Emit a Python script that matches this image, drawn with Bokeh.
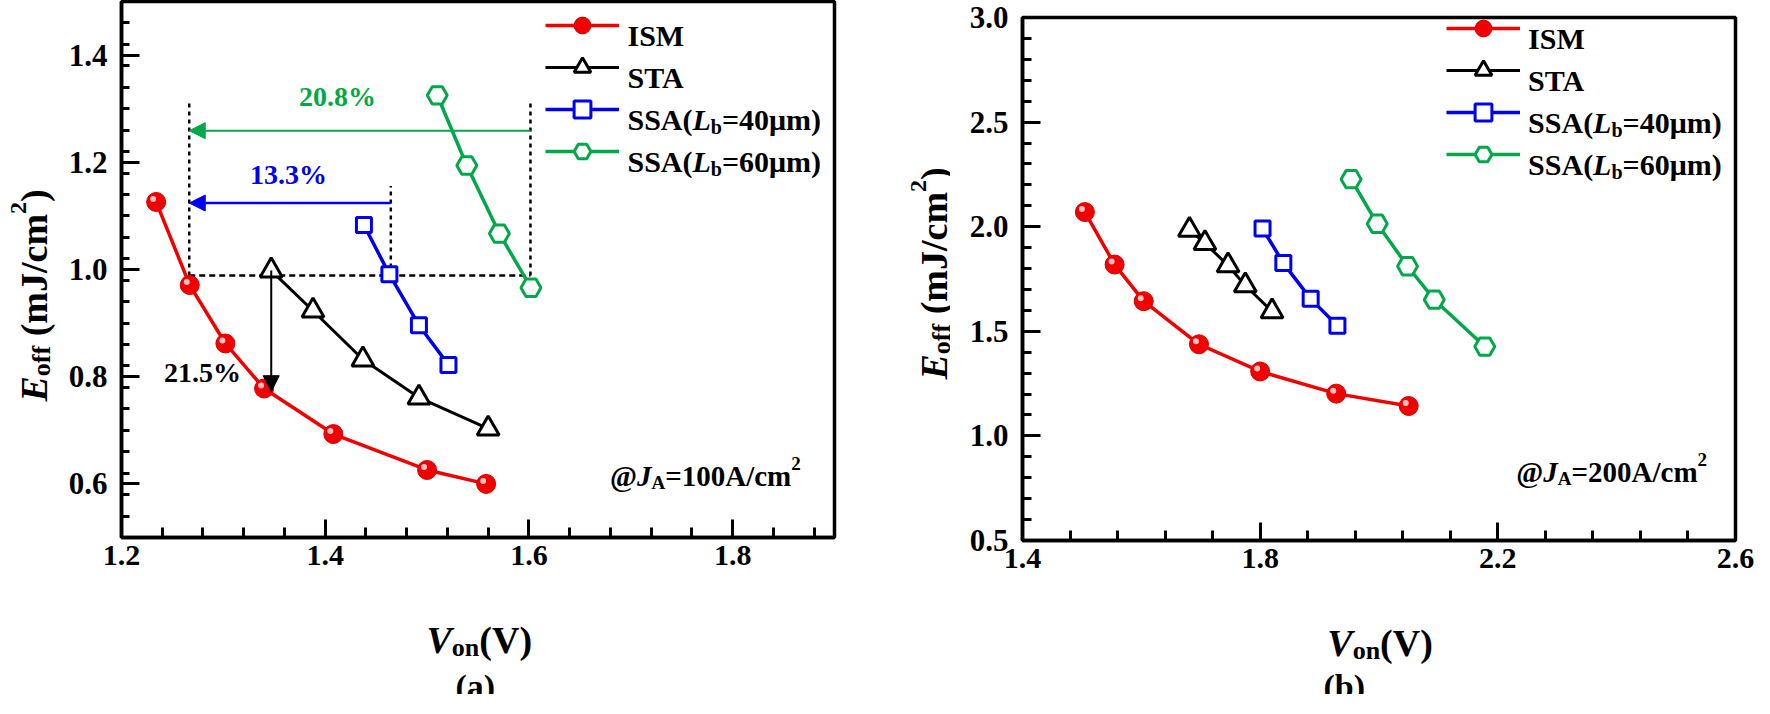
import math
from bokeh.plotting import figure
from bokeh.layouts import row, column
from bokeh.models import (FixedTicker, PrintfTickFormatter, Label, Arrow, NormalHead,
                          Legend, LegendItem, Range1d)
from bokeh.embed import file_html
from bokeh.resources import INLINE

# ---------------- data: panel (a) @JA=100A/cm2 ----------------
a_ism_x = [1.234, 1.267, 1.302, 1.340, 1.408, 1.500, 1.558]
a_ism_y = [1.126, 0.971, 0.862, 0.778, 0.693, 0.626, 0.600]
a_sta_x = [1.347, 1.388, 1.437, 1.492, 1.560]
a_sta_y = [0.998, 0.923, 0.832, 0.761, 0.703]
a_ssa40_x = [1.438, 1.463, 1.492, 1.521]
a_ssa40_y = [1.083, 0.991, 0.896, 0.822]
a_ssa60_x = [1.510, 1.539, 1.571, 1.602]
a_ssa60_y = [1.325, 1.194, 1.067, 0.966]

# ---------------- data: panel (b) @JA=200A/cm2 ----------------
b_ism_x = [1.505, 1.555, 1.604, 1.697, 1.800, 1.928, 2.050]
b_ism_y = [2.070, 1.819, 1.644, 1.438, 1.308, 1.202, 1.143]
b_sta_x = [1.681, 1.707, 1.746, 1.775, 1.820]
b_sta_y = [1.985, 1.921, 1.815, 1.719, 1.595]
b_ssa40_x = [1.804, 1.839, 1.885, 1.930]
b_ssa40_y = [1.991, 1.826, 1.655, 1.527]
b_ssa60_x = [1.953, 1.997, 2.048, 2.093, 2.178]
b_ssa60_y = [2.227, 2.014, 1.811, 1.651, 1.427]

# ---------------- annotation values (panel a) ----------------
ref_level = 0.989          # dashed reference E_off level
ism_ref_x = 1.2665         # ISM V_on at that level
ssa40_ref_x = 1.4644       # SSA(40) V_on at that level
ssa60_ref_x = 1.6015       # SSA(60) V_on at that level
guide_top_a = 1.317
guide_top_blue = 1.156
green_arrow_y = 1.259
blue_arrow_y = 1.124
sta_arrow_x = 1.347
sta_arrow_y = [0.998, 0.772]
pct_texts = ["20.8%", "13.3%", "21.5%"]
pct_x = [1.412, 1.364, 1.2795]
pct_y = [1.322, 1.178, 0.808]

# ---------------- axes / ticks ----------------
a_xrange = (1.2, 1.9)
a_yrange = (0.5, 1.5)
a_xticks = [1.2, 1.4, 1.6, 1.8]
a_yticks = [0.6, 0.8, 1.0, 1.2, 1.4]
b_xrange = (1.4, 2.6)
b_yrange = (0.5, 3.0)
b_xticks = [1.4, 1.8, 2.2, 2.6]
b_yticks = [0.5, 1.0, 1.5, 2.0, 2.5, 3.0]

RED = "#f20000"
BLUE = "#0000f0"
GREEN = "#00a84a"
FONT = "Liberation Serif"
ORIGIN = 8          # page margin
TOTAL_H = 694
TOTAL_W = 1754

# Times/Liberation Serif bold advance widths (per 1000 em)
BOLD = {' ': 250, '(': 333, ')': 333, '.': 250, '/': 278, '=': 570, '@': 930, '%': 1000,
        'A': 722, 'E': 667, 'I': 389, 'J': 500, 'L': 667, 'M': 944, 'S': 556, 'T': 667,
        'V': 722, 'a': 500, 'b': 556, 'c': 444, 'f': 333, 'm': 833, 'n': 556, 'o': 500,
        'μ': 556}
BOLDIT = {'E': 667, 'J': 500, 'L': 611, 'V': 667}


def tw(s, size, italic=False):
    tbl = BOLDIT if italic else BOLD
    return sum(tbl.get(ch, BOLD.get(ch, 500)) for ch in s) * size / 1000.0


def minor(lo, hi, step):
    n = int(round((hi - lo) / step))
    return [round(lo + i * step, 6) for i in range(n + 1)]


def blank(fw, fh, bl, bt, br, bb):
    p = figure(title=None, x_range=Range1d(0, 1), y_range=Range1d(0, 1), frame_width=fw,
               frame_height=fh, min_border_left=bl, min_border_right=br, min_border_top=bt,
               min_border_bottom=bb, x_axis_location=None, y_axis_location=None,
               output_backend="svg", toolbar_location=None, outline_line_color=None,
               background_fill_color="white", border_fill_color="white")
    p.grid.visible = False
    return p


def make_fig(xr, yr, xt, yt, xminor, yminor, fw, fh, bl, bt, br, bb, yminor_len):
    p = figure(title=None, x_range=Range1d(*xr), y_range=Range1d(*yr), frame_width=fw,
               frame_height=fh, min_border_left=bl, min_border_top=bt, min_border_right=br,
               min_border_bottom=bb, output_backend="svg", toolbar_location=None,
               background_fill_color="white", border_fill_color="white")
    p.grid.visible = False
    p.outline_line_color = "black"
    p.outline_line_width = 3.5
    p.xaxis.ticker = FixedTicker(ticks=xt, minor_ticks=xminor)
    p.yaxis.ticker = FixedTicker(ticks=yt, minor_ticks=yminor)
    for ax in (p.xaxis[0], p.yaxis[0]):
        ax.formatter = PrintfTickFormatter(format="%.1f")
        ax.axis_line_width = 3.5
        ax.axis_line_color = "black"
        ax.major_tick_in = 18
        ax.major_tick_out = 0
        ax.minor_tick_out = 0
        ax.major_tick_line_width = 3
        ax.minor_tick_line_width = 3
        ax.major_label_text_font = FONT
        ax.major_label_text_font_style = "bold"
        ax.major_label_text_color = "black"
    p.xaxis.major_label_text_font_size = "30px"
    p.yaxis.major_label_text_font_size = "31px"
    p.xaxis.major_label_standoff = 8
    p.yaxis.major_label_standoff = 14
    p.xaxis.minor_tick_in = 10
    p.yaxis.minor_tick_in = yminor_len
    return p


def add_series(p, xs, pxx, pxy, leg_loc):
    (ix, iy), (tx, ty), (sx, sy), (gx, gy) = xs
    r_line = p.line(ix, iy, line_color=RED, line_width=3.5)
    r_dot = p.scatter(ix, iy, marker="circle", size=19, fill_color=RED, line_color="#d80000",
                      line_width=1)
    p.scatter([x - 3.0 / pxx for x in ix], [y + 3.0 / pxy for y in iy], marker="circle", size=6,
              fill_color="#ffd6d6", line_color=None, fill_alpha=0.9)
    t_line = p.line(tx, ty, line_color="black", line_width=3)
    t_m = p.scatter(tx, ty, marker="triangle", size=22, fill_color="white", line_color="black",
                    line_width=3)
    s_line = p.line(sx, sy, line_color=BLUE, line_width=3.5)
    s_m = p.scatter(sx, sy, marker="square", size=15, fill_color="white", line_color=BLUE,
                    line_width=3)
    g_line = p.line(gx, gy, line_color=GREEN, line_width=3.5)
    g_m = p.scatter(gx, gy, marker="hex", size=20, fill_color="white", line_color=GREEN,
                    line_width=3)
    items = [LegendItem(label=" ", renderers=[r_line, r_dot]),
             LegendItem(label=" ", renderers=[t_line, t_m]),
             LegendItem(label=" ", renderers=[s_line, s_m]),
             LegendItem(label=" ", renderers=[g_line, g_m])]
    leg = Legend(items=items, location=leg_loc, glyph_width=74, glyph_height=42,
                 label_height=42, label_width=1, label_standoff=0, spacing=0, padding=0,
                 margin=0, border_line_alpha=0, background_fill_alpha=0,
                 label_text_font_size="10px")
    p.add_layout(leg)


def rich(p, segs, x0, y0, frame_left, frame_bottom, rotated=False, color="black"):
    """segs: list of (text, size, italic, shift_up). x0,y0 = page coords of baseline start."""
    fx = x0 - frame_left
    fy = frame_bottom - y0
    adv = 0.0
    for text, size, italic, shift in segs:
        lead = len(text) - len(text.lstrip(' '))
        adv += lead * 0.25 * size
        text = text.lstrip(' ')
        style = "bold italic" if italic else "bold"
        if rotated:
            lx, ly, ang = fx - shift, fy + adv, math.pi / 2
        else:
            lx, ly, ang = fx + adv, fy + shift, 0
        p.add_layout(Label(x=lx, y=ly, x_units="screen", y_units="screen", text=text,
                           angle=ang, text_font=FONT, text_font_style=style,
                           text_font_size=f"{size}px", text_color=color, text_align="left",
                           text_baseline="alphabetic"))
        adv += tw(text, size, italic)


def legend_texts(p, x0, row_centers, frame_left, frame_bottom):
    segs_list = [[("ISM", 30, False, 0)],
                 [("STA", 30, False, 0)],
                 [("SSA(", 30, False, 0), ("L", 30, True, 0), ("b", 20, False, -7),
                  ("=40μm)", 30, False, 0)],
                 [("SSA(", 30, False, 0), ("L", 30, True, 0), ("b", 20, False, -7),
                  ("=60μm)", 30, False, 0)]]
    for segs, yc in zip(segs_list, row_centers):
        rich(p, segs, x0, yc + 10, frame_left, frame_bottom)


ytitle = [("E", 38, True, 0), ("off", 26, False, -8), (" (mJ/cm", 38, False, 0),
          ("2", 24, False, 15), (")", 38, False, 0)]
xtitle = [("V", 38, True, 0), ("on", 26, False, -8), ("(V)", 38, False, 0)]

# ======================= panel (a) =======================
BLOCK_A_W = 872
YT_A_W = 60
A_LEFT, A_TOP, A_W, A_H, A_BOT = 61, 1, 713, 536, 64
A_RIGHT = BLOCK_A_W - YT_A_W - A_LEFT - A_W
pa = make_fig(a_xrange, a_yrange, a_xticks, a_yticks, minor(1.2, 1.9, 0.04),
              minor(0.5, 1.5, 0.04), A_W, A_H, A_LEFT, A_TOP, A_RIGHT, A_BOT, 8)
fl_a, fb_a = ORIGIN + YT_A_W + A_LEFT, ORIGIN + A_TOP + A_H
pxx_a = A_W / (a_xrange[1] - a_xrange[0])
pxy_a = A_H / (a_yrange[1] - a_yrange[0])

dash_kw = dict(line_color="black", line_width=2.5)
pa.line([ism_ref_x, ssa60_ref_x], [ref_level, ref_level], line_dash="6 4", **dash_kw)
pa.line([ism_ref_x, ism_ref_x], [ref_level, guide_top_a], line_dash="4 4", **dash_kw)
pa.line([ssa60_ref_x, ssa60_ref_x], [ref_level, guide_top_a], line_dash="4 4", **dash_kw)
pa.line([ssa40_ref_x, ssa40_ref_x], [ref_level, guide_top_blue], line_dash="4 4", **dash_kw)

add_series(pa, [(a_ism_x, a_ism_y), (a_sta_x, a_sta_y), (a_ssa40_x, a_ssa40_y),
                (a_ssa60_x, a_ssa60_y)], pxx_a, pxy_a,
           (553 - fl_a, fb_a - (12.3 + 168)))

pa.add_layout(Arrow(end=NormalHead(size=16, fill_color=GREEN, line_color=GREEN),
                    x_start=ssa60_ref_x, y_start=green_arrow_y, x_end=ism_ref_x,
                    y_end=green_arrow_y, line_color=GREEN, line_width=2))
pa.add_layout(Arrow(end=NormalHead(size=16, fill_color=BLUE, line_color=BLUE),
                    x_start=ssa40_ref_x, y_start=blue_arrow_y, x_end=ism_ref_x,
                    y_end=blue_arrow_y, line_color=BLUE, line_width=2.5))
pa.add_layout(Arrow(end=NormalHead(size=16, fill_color="black", line_color="black"),
                    x_start=sta_arrow_x, y_start=sta_arrow_y[0], x_end=sta_arrow_x,
                    y_end=sta_arrow_y[1], line_color="black", line_width=2))
for t, x, y, c in zip(pct_texts, pct_x, pct_y, [GREEN, BLUE, "black"]):
    pa.add_layout(Label(x=x, y=y, text=t, text_font=FONT, text_font_style="bold",
                        text_font_size="28px", text_color=c, text_align="center",
                        text_baseline="middle"))

legend_texts(pa, 635, [33.3, 75.3, 117.3, 159.3], fl_a, fb_a)
rich(pa, [("@", 29, False, 0), ("J", 29, True, 0), ("A", 19, False, -7),
          ("=100A/cm", 29, False, 0), ("2", 19, False, 12)], 617.5, 483, fl_a, fb_a)

# y title strip: its frame matches the plot frame vertically
yt_a = blank(YT_A_W, A_H, 0, A_TOP, 0, TOTAL_H - A_TOP - A_H)
rich(yt_a, ytitle, 41, 393, ORIGIN, fb_a, rotated=True)
# x title strip: its frame matches the plot frame horizontally
XT_A_H = TOTAL_H - (A_TOP + A_H + A_BOT)
xt_a = blank(A_W, XT_A_H, A_LEFT, 0, A_RIGHT, 0)
rich(xt_a, xtitle, 434, 647, fl_a, ORIGIN + TOTAL_H)
rich(xt_a, [("(a)", 34, False, 0)], 463, 694, fl_a, ORIGIN + TOTAL_H)

# ======================= panel (b) =======================
YT_B_W = 78
B_LEFT, B_TOP, B_W, B_H, B_BOT = 72, 17, 713, 523, 64
B_RIGHT = TOTAL_W - BLOCK_A_W - YT_B_W - B_LEFT - B_W
pb = make_fig(b_xrange, b_yrange, b_xticks, b_yticks, minor(1.4, 2.6, 0.08),
              minor(0.5, 3.0, 0.1), B_W, B_H, B_LEFT, B_TOP, B_RIGHT, B_BOT, 9)
fl_b, fb_b = ORIGIN + BLOCK_A_W + YT_B_W + B_LEFT, ORIGIN + B_TOP + B_H
pxx_b = B_W / (b_xrange[1] - b_xrange[0])
pxy_b = B_H / (b_yrange[1] - b_yrange[0])

add_series(pb, [(b_ism_x, b_ism_y), (b_sta_x, b_sta_y), (b_ssa40_x, b_ssa40_y),
                (b_ssa60_x, b_ssa60_y)], pxx_b, pxy_b,
           (1454.4 - fl_b, fb_b - (15.4 + 168)))

legend_texts(pb, 1535.6, [36.4, 78.4, 120.4, 162.4], fl_b, fb_b)
rich(pb, [("@", 29, False, 0), ("J", 29, True, 0), ("A", 19, False, -7),
          ("=200A/cm", 29, False, 0), ("2", 19, False, 12)], 1523.8, 479, fl_b, fb_b)

yt_b = blank(YT_B_W, B_H, 0, B_TOP, 0, TOTAL_H - B_TOP - B_H)
rich(yt_b, ytitle, 941, 387, ORIGIN + BLOCK_A_W, fb_b, rotated=True)
XT_B_H = TOTAL_H - (B_TOP + B_H + B_BOT)
xt_b = blank(B_W, XT_B_H, B_LEFT, 0, B_RIGHT, 0)
rich(xt_b, xtitle, 1334.8, 650, fl_b, ORIGIN + TOTAL_H)
rich(xt_b, [("(b)", 34, False, 0)], 1331, 694, fl_b, ORIGIN + TOTAL_H)

layout = row(yt_a, column(pa, xt_a, spacing=0), yt_b, column(pb, xt_b, spacing=0), spacing=0)
open("out.html", "w").write(file_html(layout, INLINE))
